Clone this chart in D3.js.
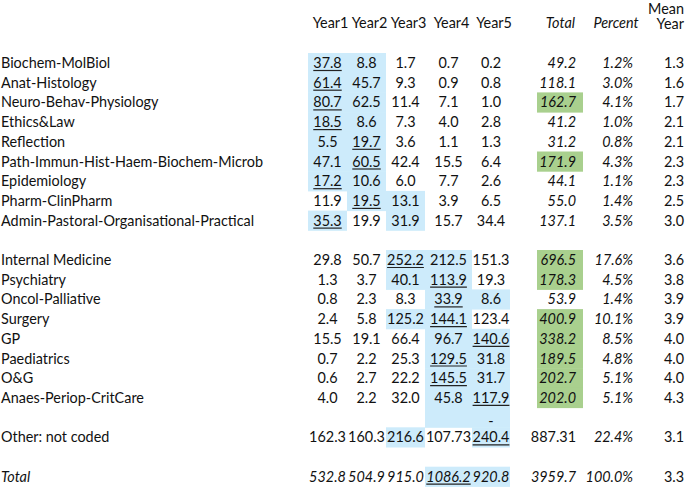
<!DOCTYPE html>
<html>
<head>
<meta charset="UTF-8">
<title>Teaching hours table</title>
<style>
  body { margin: 0; background: #fff; }
  text { font-family: Lato, "Noto Sans", sans-serif; font-size: 14.4px; fill: #111; }
</style>
</head>
<body>
<div id="chart"></div>
<script src="https://d3js.org/d3.v7.min.js"></script>
<script>
var width = 685, height = 488;

// ---- data ----
var labels = ["Biochem-MolBiol", "Anat-Histology", "Neuro-Behav-Physiology", "Ethics&Law", "Reflection",
  "Path-Immun-Hist-Haem-Biochem-Microb", "Epidemiology", "Pharm-ClinPharm", "Admin-Pastoral-Organisational-Practical",
  "Internal Medicine", "Psychiatry", "Oncol-Palliative", "Surgery", "GP", "Paediatrics", "O&G", "Anaes-Periop-CritCare",
  "Other: not coded", "Total"];
var rowSlot = [0, 1, 2, 3, 4, 5, 6, 7, 8, 10, 11, 12, 13, 14, 15, 16, 17, 19, 21];
var years = ["Year1", "Year2", "Year3", "Year4", "Year5"];
var year1 = [37.8, 61.4, 80.7, 18.5, 5.5, 47.1, 17.2, 11.9, 35.3, 29.8, 1.3, 0.8, 2.4, 15.5, 0.7, 0.6, 4.0, 162.3, 532.8];
var year2 = [8.8, 45.7, 62.5, 8.6, 19.7, 60.5, 10.6, 19.5, 19.9, 50.7, 3.7, 2.3, 5.8, 19.1, 2.2, 2.7, 2.2, 160.3, 504.9];
var year3 = [1.7, 9.3, 11.4, 7.3, 3.6, 42.4, 6.0, 13.1, 31.9, 252.2, 40.1, 8.3, 125.2, 66.4, 25.3, 22.2, 32.0, 216.6, 915.0];
var year4 = [0.7, 0.9, 7.1, 4.0, 1.1, 15.5, 7.7, 3.9, 15.7, 212.5, 113.9, 33.9, 144.1, 96.7, 129.5, 145.5, 45.8, 107.73, 1086.2];
var year5 = [0.2, 0.8, 1.0, 2.8, 1.3, 6.4, 2.6, 6.5, 34.4, 151.3, 19.3, 8.6, 123.4, 140.6, 31.8, 31.7, 117.9, 240.4, 920.8];
var totals = [49.2, 118.1, 162.7, 41.2, 31.2, 171.9, 44.1, 55.0, 137.1, 696.5, 178.3, 53.9, 400.9, 338.2, 189.5, 202.7, 202.0, 887.31, 3959.7];
var percents = [1.2, 3.0, 4.1, 1.0, 0.8, 4.3, 1.1, 1.4, 3.5, 17.6, 4.5, 1.4, 10.1, 8.5, 4.8, 5.1, 5.1, 22.4, 100.0];
var meanYear = [1.3, 1.6, 1.7, 2.1, 2.1, 2.3, 2.3, 2.5, 3.0, 3.6, 3.8, 3.9, 3.9, 4.0, 4.0, 4.0, 4.3, 3.1, 3.3];
// blue shading per row, one flag per year column
var shadeMask = ["11000", "11000", "11000", "11000", "11000", "11000", "11000", "01100", "10100",
  "00110", "00110", "00011", "00110", "00011", "00011", "00011", "00011", "00101", "00011"];
var greenTotal = [0, 0, 1, 0, 0, 1, 0, 0, 0, 1, 1, 0, 1, 1, 1, 1, 1, 0, 0];

var yearData = [year1, year2, year3, year4, year5];

// ---- layout ----
var colEdges = [308, 347, 386, 425, 472, 510];
var xYear = d3.scaleOrdinal().domain(years).range(colEdges.slice(0, 5));
var colW = function(i) { return colEdges[i + 1] - colEdges[i]; };
var rowH = 19.7, top0 = 53;
var y = d3.scaleLinear().domain([0, 1]).range([top0, top0 + rowH]);
var blue = "#cdebfb", green = "#a9d08e";

var fmt = function(v) { return Number.isInteger(v) ? v.toFixed(1) : String(v); };

var svg = d3.select("#chart").append("svg")
  .attr("width", width).attr("height", height);

// blue cells
var cells = [];
rowSlot.forEach(function(s, r) {
  years.forEach(function(yr, c) {
    if (shadeMask[r][c] === "1") cells.push({slot: s, c: c});
  });
});
// gap row under Anaes keeps the Year4/Year5 band going
cells.push({slot: 18, c: 3}, {slot: 18, c: 4});

svg.append("g").selectAll("rect").data(cells).enter().append("rect")
  .attr("x", function(d) { return xYear(years[d.c]); })
  .attr("y", function(d) { return y(d.slot); })
  .attr("width", function(d) { return colW(d.c); })
  .attr("height", rowH + 0.5)
  .attr("fill", blue);

// green total cells
svg.append("g").selectAll("rect").data(rowSlot.filter(function(s, r) { return greenTotal[r]; }))
  .enter().append("rect")
  .attr("x", 537).attr("y", function(s) { return y(s); })
  .attr("width", 46).attr("height", rowH + 0.5)
  .attr("fill", green);

// headers
var head = svg.append("g");
head.selectAll("text").data(years).enter().append("text")
  .attr("x", function(d, i) { return xYear(d) + colW(i) / 2 + 3; })
  .attr("y", 28).attr("text-anchor", "middle").text(function(d) { return d; });
head.append("text").attr("x", 575).attr("y", 28).attr("text-anchor", "end")
  .style("font-style", "italic").text("Total");
head.append("text").attr("x", 616).attr("y", 28).attr("text-anchor", "middle")
  .style("font-style", "italic").text("Percent");
head.append("text").attr("x", 684).attr("y", 13.5).attr("text-anchor", "end").text("Mean");
head.append("text").attr("x", 684).attr("y", 29).attr("text-anchor", "end").text("Year");

// rows
var isTotal = function(r) { return r === labels.length - 1; };
var rows = svg.append("g").selectAll("g").data(labels).enter().append("g")
  .attr("transform", function(d, r) { return "translate(0," + (y(rowSlot[r]) + 15) + ")"; });

rows.append("text").attr("x", 1)
  .style("font-style", function(d, r) { return isTotal(r) ? "italic" : null; })
  .text(function(d) { return d; });

rows.each(function(lab, r) {
  var g = d3.select(this);
  var vals = yearData.map(function(a) { return a[r]; });
  var maxI = d3.maxIndex(vals);
  vals.forEach(function(v, c) {
    var t = g.append("text")
      .attr("x", xYear(years[c]) + colW(c) / 2)
      .attr("text-anchor", "middle")
      .style("font-style", isTotal(r) ? "italic" : null)
      .text(fmt(v));
    if (c === maxI) {
      var w = t.node().getComputedTextLength();
      var cx = xYear(years[c]) + colW(c) / 2;
      g.append("line")
        .attr("x1", cx - w / 2).attr("x2", cx + w / 2)
        .attr("y1", 2.5).attr("y2", 2.5)
        .attr("stroke", "#222").attr("stroke-width", 1.2);
    }
  });
  g.append("text").attr("x", 576).attr("text-anchor", "end")
    .style("font-style", r === labels.length - 2 ? null : "italic")
    .text(fmt(totals[r]));
  g.append("text").attr("x", 633).attr("text-anchor", "end")
    .style("font-style", "italic")
    .text(fmt(percents[r]) + "%");
  g.append("text").attr("x", 674).attr("text-anchor", "middle")
    .text(fmt(meanYear[r]));
});

// stray dash above 240.4
svg.append("text")
  .attr("x", xYear("Year5") + colW(4) / 2).attr("y", y(18) + rowH - 1)
  .attr("text-anchor", "middle").text("-");
</script>
</body>
</html>
